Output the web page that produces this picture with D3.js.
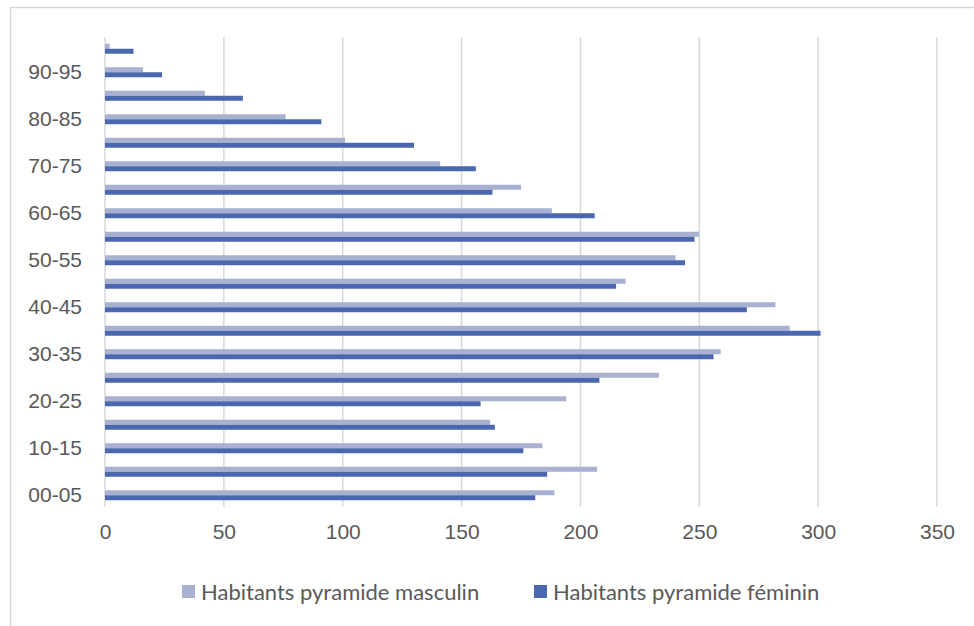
<!DOCTYPE html>
<html>
<head>
<meta charset="utf-8">
<script src="https://cdn.jsdelivr.net/npm/d3@7/dist/d3.min.js"></script>
<style>
  html, body { margin: 0; padding: 0; background: #fff; }
  svg { display: block; font-family: Lato, 'Noto Sans', sans-serif; }
  .y-axis text, .x-axis text { fill: #595959; }
  .legend text { fill: #595959; }
</style>
</head>
<body>
<div id="chart"></div>
<script>
const ageGroups = ['00-05', '05-10', '10-15', '15-20', '20-25', '25-30', '30-35', '35-40', '40-45', '45-50',
  '50-55', '55-60', '60-65', '65-70', '70-75', '75-80', '80-85', '85-90', '90-95', '95-100']
const masculin = [189, 207, 184, 162, 194, 233, 259, 288, 282, 219, 240, 250, 188, 175, 141, 101, 76, 42, 16, 2]
const feminin = [181, 186, 176, 164, 158, 208, 256, 301, 270, 215, 244, 248, 206, 163, 156, 130, 91, 58, 24, 12]
const xTicks = [0, 50, 100, 150, 200, 250, 300, 350]
const seriesNames = ['Habitants pyramide masculin', 'Habitants pyramide féminin']
const colors = ['#A9B1D1', '#4A67AF']

const width = 974
const height = 626
const margin = { top: 37, bottom: 119, left: 105, right: 37 }

const svg = d3.select('#chart')
  .append('svg')
    .attr('width', width)
    .attr('height', height)

// FRAME
svg.append('path')
  .attr('d', `M10.5 ${height}L10.5 7.5L${width} 7.5`)
  .attr('fill', 'none')
  .attr('stroke', '#D9D9D9')
  .attr('stroke-width', 1.5)

// X-AXIS
const xScale = d3.scaleLinear()
  .domain([0, 350])
  .range([margin.left, width - margin.right])

const xAxis = d3.axisBottom(xScale)
  .tickValues(xTicks)
  .tickSize(0)
  .tickPadding(17)

svg.append('g')
  .attr('class', 'x-axis')
  .attr('transform', `translate(0 ${height - margin.bottom})`)
  .call(xAxis)
  .call(g => g.select('.domain').remove())
  .selectAll('text')
    .attr('font-size', 21)

// GRID
svg.append('g')
  .attr('class', 'grid')
  .selectAll('line')
  .data(xTicks)
  .enter().append('line')
    .attr('x1', d => xScale(d))
    .attr('x2', d => xScale(d))
    .attr('y1', margin.top)
    .attr('y2', height - margin.bottom)
    .attr('stroke', '#D9D9D9')
    .attr('stroke-width', 1.5)

// Y-AXIS
const yScale = d3.scaleBand()
  .domain(ageGroups)
  .range([height - margin.bottom, margin.top])

const seriesScale = d3.scaleBand()
  .domain([0, 1])
  .range([0, yScale.bandwidth()])
  .paddingOuter(1.35)

const yAxis = d3.axisLeft(yScale)
  .tickValues(ageGroups.filter((d, i) => i % 2 === 0))
  .tickSize(0)
  .tickPadding(23)

svg.append('g')
  .attr('class', 'y-axis')
  .attr('transform', `translate(${margin.left} 0)`)
  .call(yAxis)
  .call(g => g.select('.domain').remove())
  .selectAll('text')
    .attr('font-size', 21)

// BARS
const rows = ageGroups.map((g, i) => ({ group: g, values: [masculin[i], feminin[i]] }))

svg.append('g')
  .attr('class', 'bars')
  .selectAll('g')
  .data(rows)
  .enter().append('g')
    .attr('transform', d => `translate(0 ${yScale(d.group)})`)
  .selectAll('rect')
  .data(d => d.values.map((v, s) => ({ v, s })))
  .enter().append('rect')
    .attr('x', xScale(0))
    .attr('y', d => seriesScale(d.s))
    .attr('width', d => xScale(d.v) - xScale(0))
    .attr('height', seriesScale.bandwidth())
    .attr('fill', d => colors[d.s])

// LEGEND
const legendX = [182, 534]
const legend = svg.append('g')
  .attr('class', 'legend')
  .selectAll('g')
  .data(seriesNames)
  .enter().append('g')
    .attr('transform', (d, i) => `translate(${legendX[i]} 592)`)

legend.append('rect')
  .attr('y', -7)
  .attr('width', 13)
  .attr('height', 13)
  .attr('fill', (d, i) => colors[i])

legend.append('text')
  .attr('x', 19)
  .attr('dy', '0.35em')
  .attr('font-size', 22)
  .text(d => d)
</script>
</body>
</html>
